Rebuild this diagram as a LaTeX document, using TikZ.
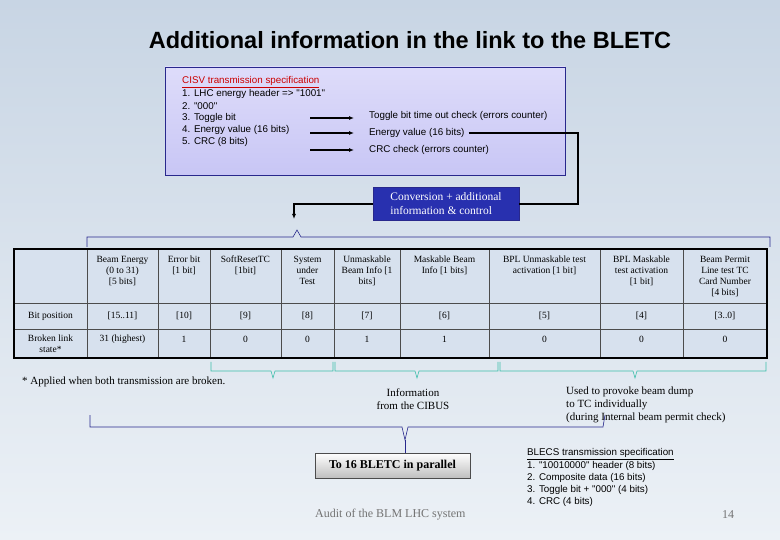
\documentclass[tikz,border=0pt]{standalone}
\usepackage{fontspec}
\setmainfont{Liberation Serif}
\newfontfamily\arialf{Liberation Sans}
\usetikzlibrary{arrows.meta}
\definecolor{bgA}{RGB}{236,241,246}
\definecolor{bgB}{RGB}{200,213,228}
\definecolor{lav}{RGB}{200,198,245}
\definecolor{lavB}{RGB}{222,220,250}
\definecolor{boxblue}{RGB}{40,48,175}
\definecolor{navy}{RGB}{40,40,140}
\definecolor{tealc}{RGB}{60,190,170}
\definecolor{tbl}{RGB}{215,225,238}
\tikzset{
  sans/.style={font=\arialf\fontsize{9.8}{11}\selectfont, anchor=west, inner sep=0pt},
  cell/.style={font=\fontsize{9.5}{11}\selectfont, align=center, inner sep=0pt},
  arr/.style={-{Latex[length=5pt,width=4pt]}, line width=1.2pt},
  lnk/.style={line width=1.2pt},
  brc/.style={navy, line width=0.6pt},
  tbrc/.style={tealc, line width=0.6pt},
  bl/.style={sans, font=\arialf\fontsize{9.8}{11}\selectfont},
}
\begin{document}
\begin{tikzpicture}[x=1pt,y=-1pt]
\useasboundingbox (0,0) rectangle (780,540);
\shade[top color=bgB, bottom color=bgA] (0,0) rectangle (780,540);
\node[font=\arialf\bfseries\fontsize{23.5}{26}\selectfont] (title) at (410,40) {Additional information in the link to the BLETC};
% top box
\shade[top color=lavB, bottom color=lav, draw=navy] (165,67) rectangle (565,175);
\node[sans, text=red!80!black] (s0) at (182,82) {\underline{CISV transmission specification}};
\node[sans] (s1) at (182,94) {1. LHC energy header => "1001"};
\node[sans] (s2) at (182,106) {2. "000"};
\node[sans] (s3) at (182,118) {3. Toggle bit};
\node[sans] (s4) at (182,130) {4. Energy value (16 bits)};
\node[sans] (s5) at (182,142) {5. CRC (8 bits)};
\node[sans] (t1) at (369,116) {Toggle bit time out check (errors counter)};
\node[sans] (t2) at (369,133) {Energy value (16 bits)};
\node[sans] (t3) at (369,150) {CRC check (errors counter)};
\coordinate (a1) at (310,118); \coordinate (e1) at (354,118);
\coordinate (a2) at (310,133); \coordinate (e2) at (354,133);
\coordinate (a3) at (310,150); \coordinate (e3) at (354,150);
\draw[arr] (a1) -- (e1);
\draw[arr] (a2) -- (e2);
\draw[arr] (a3) -- (e3);
% conversion box
\node[draw=navy, fill=boxblue, text=white, minimum width=146pt, minimum height=33pt, align=left, font=\fontsize{11.5}{14}\selectfont] (conv) at (446,204) {Conversion + additional\\information \& control};
\coordinate (c1) at (578,133);
\coordinate (c2) at (294,219);
\draw[lnk] ([xshift=4pt]t2.east) -- (c1) |- (conv.east);
\draw[lnk,-{Latex[length=5pt,width=4pt]}] (conv.west) -| (c2);
% top brace
\draw[brc] (87,247) -- (87,237) -- (293,237) -- (297,230) -- (301,237) -- (770,237) -- (770,247);
% table
\fill[tbl] (14,249) rectangle (767,358);
\foreach \x in {87,158,210,281,334,400,489,600,683} \draw[black!70] (\x,249) -- (\x,358);
\draw[black!70] (14,303) -- (767,303); \draw[black!70] (14,329) -- (767,329);
\draw[line width=1.3pt] (14,249) rectangle (767,358);
\node[cell, anchor=north] (h1) at (122.5,256) {Beam Energy\\(0 to 31)\\{}[5 bits]};
\node[cell, anchor=north] (h2) at (184,256) {Error bit\\{}[1 bit]};
\node[cell, anchor=north] (h3) at (245.5,256) {SoftResetTC\\{}[1bit]};
\node[cell, anchor=north] (h4) at (307.5,256) {System\\under\\Test};
\node[cell, anchor=north] (h5) at (367,256) {Unmaskable\\Beam Info [1\\bits]};
\node[cell, anchor=north] (h6) at (444.5,256) {Maskable Beam\\Info [1 bits]};
\node[cell, anchor=north] (h7) at (544.5,256) {BPL Unmaskable test\\activation [1 bit]};
\node[cell, anchor=north] (h8) at (641.5,256) {BPL Maskable\\test activation\\{}[1 bit]};
\node[cell, anchor=north] (h9) at (725,256) {Beam Permit\\Line test TC\\Card Number\\{}[4 bits]};
\node[cell] (r1) at (50.5,316) {Bit position};
\node[cell] (r2) at (50.5,344) {Broken link\\state*};
\foreach \x/\t [count=\i] in {122.5/{[15..11]},184/{[10]},245.5/{[9]},307.5/{[8]},367/{[7]},444.5/{[6]},544.5/{[5]},641.5/{[4]},725/{[3..0]}}
  \node[cell] (b\i) at (\x,316) {\t};
\foreach \x/\t [count=\i] in {122.5/{31 (highest)},184/1,245.5/0,307.5/0,367/1,444.5/1,544.5/0,641.5/0,725/0}
  \node[cell] (k\i) at (\x,339) {\t};
% teal braces
\draw[tbrc] (211,362) -- (211,371) -- (271,371) -- (273,378) -- (275,371) -- (333,371) -- (333,362);
\draw[tbrc] (335,362) -- (335,371) -- (415,371) -- (417,378) -- (419,371) -- (498,371) -- (498,362);
\draw[tbrc] (500,362) -- (500,371) -- (633,371) -- (635,378) -- (637,371) -- (766,371) -- (766,362);
\node[anchor=west, inner sep=0pt, font=\fontsize{11}{12}\selectfont] (foot) at (22,382) {* Applied when both transmission are broken.};
\node[align=center, inner sep=0pt, font=\fontsize{11}{12.5}\selectfont] (cibus) at (413,399) {Information\\from the CIBUS};
\node[align=left, anchor=north west, inner sep=0pt, font=\fontsize{11}{13}\selectfont] (dump) at (566,387) {Used to provoke beam dump\\to TC individually\\(during Internal beam permit check)};
% big brace
\draw[brc] (90,415) -- (90,427) -- (402,427) -- (405,440) -- (408,427) -- (603,427) -- (605,415);
\draw[brc] (405,440) -- (405,453);
\shade[top color=white, bottom color=black!25, draw=black!70] (315,453) rectangle (470,478);
\node[font=\bfseries\fontsize{12}{14}\selectfont] (par) at (392.5,466) {To 16 BLETC in parallel};
\node[bl] (q0) at (527,454) {\underline{BLECS transmission specification}};
\node[bl] (q1) at (527,466) {1. "10010000" header (8 bits)};
\node[bl] (q2) at (527,478) {2. Composite data (16 bits)};
\node[bl] (q3) at (527,490) {3. Toggle bit + "000" (4 bits)};
\node[bl] (q4) at (527,502) {4. CRC (4 bits)};
\node[anchor=west, inner sep=0pt, text=black!55, font=\fontsize{12}{13}\selectfont] (audit) at (315,515) {Audit of the BLM LHC system};
\node[text=black!55, font=\fontsize{12}{13}\selectfont] (pg) at (728,515) {14};
\end{tikzpicture}
\end{document}
